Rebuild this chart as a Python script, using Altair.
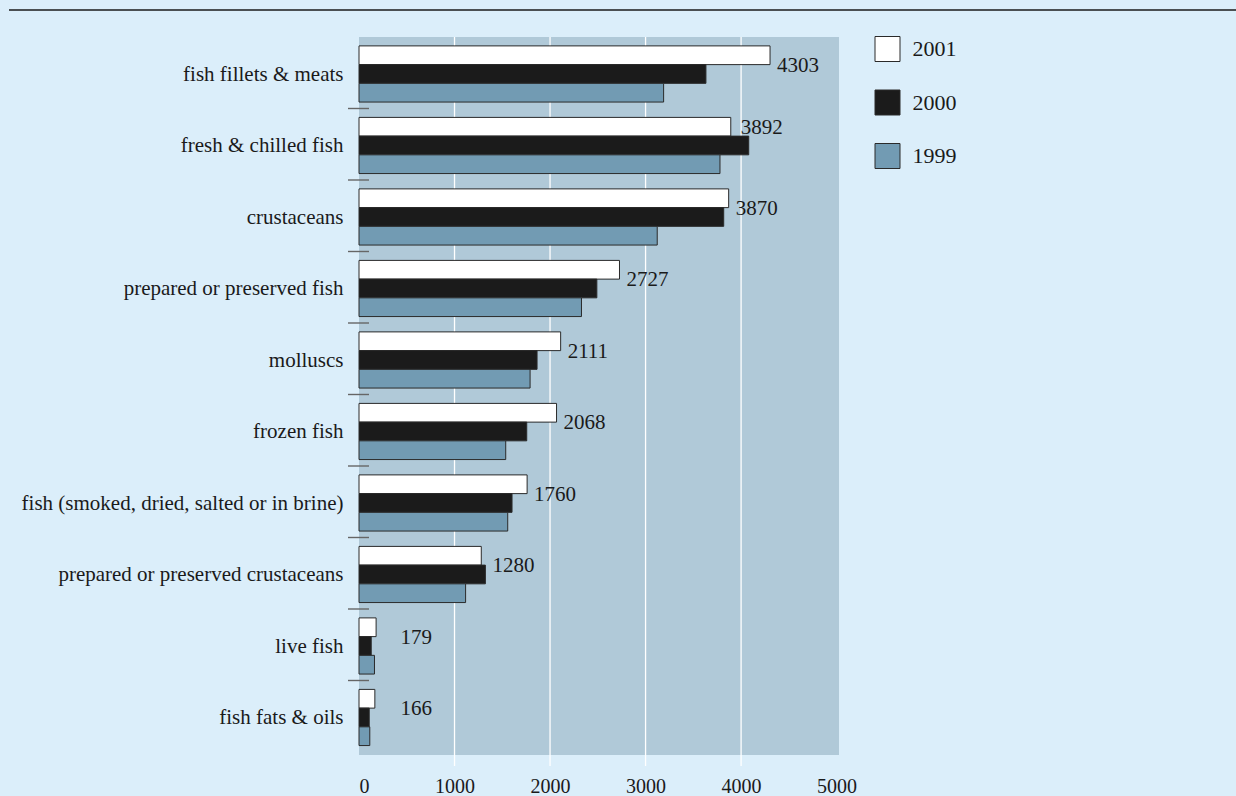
import altair as alt
import pandas as pd

categories = [
    "fish fillets & meats",
    "fresh & chilled fish",
    "crustaceans",
    "prepared or preserved fish",
    "molluscs",
    "frozen fish",
    "fish (smoked, dried, salted or in brine)",
    "prepared or preserved crustaceans",
    "live fish",
    "fish fats & oils",
]
years = ["2001", "2000", "1999"]
v2001 = [4303, 3892, 3870, 2727, 2111, 2068, 1760, 1280, 179, 166]
v2000 = [3632, 4080, 3818, 2490, 1864, 1756, 1602, 1323, 128, 107]
v1999 = [3189, 3779, 3122, 2329, 1791, 1536, 1557, 1116, 162, 113]
grid_values = [1000, 2000, 3000, 4000]
x_ticks = [0, 1000, 2000, 3000, 4000, 5000]
colors = ["#ffffff", "#1b1b1b", "#729bb3"]

FONT = "Liberation Serif"
TXT = "#1a1a1a"

rows = []
for i, c in enumerate(categories):
    for y, vals in zip(years, [v2001, v2000, v1999]):
        rows.append({"category": c, "year": y, "value": vals[i]})
bars_df = pd.DataFrame(rows)

labels_df = pd.DataFrame({
    "category": categories,
    "v2001": v2001,
    "v2000": v2000,
    "v1999": v1999,
})

grid_df = pd.DataFrame({"g": grid_values})
bound_df = pd.DataFrame({"category": categories[1:]})

xscale = alt.Scale(domain=[0, 5025], nice=False, zero=True)
yscale = alt.Scale(domain=categories, paddingInner=0, paddingOuter=0.021, align=0)

grid = alt.Chart(grid_df).mark_rule(color="white", strokeWidth=1.3).encode(
    x=alt.X("g:Q", scale=xscale),
    y=alt.value(0),
    y2=alt.value(729),
)

bars = alt.Chart(bars_df).mark_bar(stroke="#2a2a2a", strokeWidth=1).encode(
    x=alt.X("value:Q", scale=xscale,
            axis=alt.Axis(title=None, grid=False, ticks=False, domain=False,
                          values=x_ticks, labelFont=FONT, labelFontSize=20,
                          labelColor=TXT, labelPadding=21, format="d")),
    y=alt.Y("category:N", scale=yscale, sort=categories,
            axis=alt.Axis(title=None, ticks=False, domain=False, labelFont=FONT,
                          labelFontSize=21, labelColor=TXT, labelPadding=16,
                          labelOffset=2, labelLimit=0)),
    yOffset=alt.YOffset("year:N", sort=years,
                        scale=alt.Scale(paddingInner=0, paddingOuter=0.41, align=0.58)),
    color=alt.Color("year:N", sort=years,
                    scale=alt.Scale(domain=years, range=colors),
                    legend=alt.Legend(title=None, orient="none", legendX=515.5, legendY=-1,
                                      symbolType="square", symbolSize=625,
                                      symbolStrokeColor="#2a2a2a", symbolStrokeWidth=1,
                                      symbolOpacity=1,
                                      labelFont=FONT, labelFontSize=22, labelColor=TXT,
                                      labelOffset=12, rowPadding=23.5, padding=0)),
)

bounds = alt.Chart(bound_df).mark_rule(color="#666666", strokeWidth=1.4).encode(
    y=alt.Y("category:N", scale=yscale, sort=categories, bandPosition=0),
    x=alt.value(-11),
    x2=alt.value(10),
)

base_lab = alt.Chart(labels_df).transform_calculate(
    vmax="max(datum.v2001, datum.v2000, datum.v1999)",
    upper="datum.v2000 - datum.v2001 > 100",
)

lab_normal = base_lab.transform_filter("!datum.upper").transform_calculate(
    lx="max(datum.vmax, 360)"
).mark_text(align="left", baseline="middle", dx=7, dy=-7, font=FONT,
            fontSize=21, color=TXT).encode(
    x=alt.X("lx:Q", scale=xscale),
    y=alt.Y("category:N", scale=yscale, sort=categories),
    text=alt.Text("v2001:Q", format="d"),
)

lab_upper = base_lab.transform_filter("datum.upper").transform_calculate(
    lx="datum.v2001"
).mark_text(align="left", baseline="middle", dx=10, dy=-16, font=FONT,
            fontSize=21, color=TXT).encode(
    x=alt.X("lx:Q", scale=xscale),
    y=alt.Y("category:N", scale=yscale, sort=categories),
    text=alt.Text("v2001:Q", format="d"),
)

topline = alt.Chart(pd.DataFrame({"k": [0]})).mark_rule(color=TXT, strokeWidth=1.3).encode(
    x=alt.value(-350), x2=alt.value(877), y=alt.value(-27)
)

chart = alt.layer(grid, bars, bounds, lab_normal, lab_upper, topline).properties(
    width=480,
    height=718,
    background="#dbeefa",
    padding={"left": 359, "top": 37, "right": 397, "bottom": 41},
    autosize=alt.AutoSizeParams(type="none"),
).configure_view(fill="#b0c9d8", stroke=None)

chart.save("out.html", embed_options={"renderer": "svg", "actions": False})
